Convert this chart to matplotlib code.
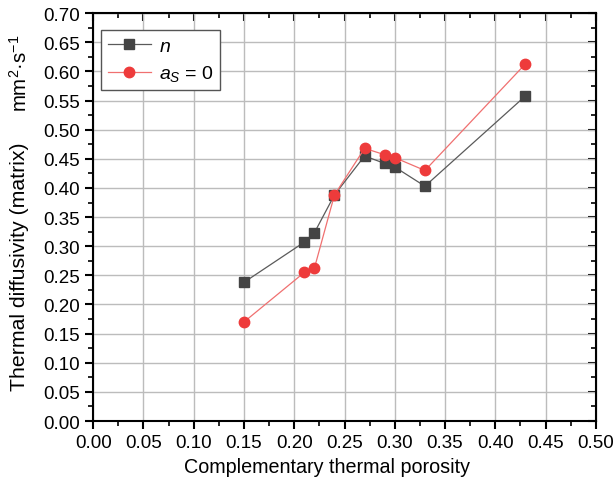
import numpy as np
import matplotlib.pyplot as plt
from matplotlib.ticker import MultipleLocator

plt.rcParams['font.family'] = ['Liberation Sans', 'DejaVu Sans']
plt.rcParams['mathtext.fontset'] = 'custom'
plt.rcParams['mathtext.it'] = 'Liberation Sans:italic'
plt.rcParams['mathtext.rm'] = 'Liberation Sans'

# porosity values
porosity = [0.15, 0.21, 0.22, 0.24, 0.27, 0.29, 0.30, 0.33, 0.43]
# diffusivity, n series
diff_n = [0.238, 0.307, 0.323, 0.388, 0.455, 0.442, 0.436, 0.403, 0.558]
# diffusivity, a_S = 0 series
diff_as0 = [0.170, 0.255, 0.262, 0.388, 0.468, 0.457, 0.452, 0.430, 0.613]

fig = plt.figure(figsize=(6.13, 4.89), dpi=100)
ax = fig.add_axes([0.152, 0.137, 0.820, 0.834])

ax.plot(porosity, diff_n, color='#5a5a5a', lw=0.9, marker='s', ms=6.5,
        mfc='#444444', mec='#444444', label='$n$', zorder=3)
ax.plot(porosity, diff_as0, color='#f07070', lw=0.9, marker='o', ms=7.5,
        mfc='#ee3b3b', mec='#ee3b3b', label='$a_S$ = 0', zorder=4)

ax.set_xlim(0, 0.5)
ax.set_ylim(0, 0.7)
ax.xaxis.set_major_locator(MultipleLocator(0.05))
ax.xaxis.set_minor_locator(MultipleLocator(0.025))
ax.yaxis.set_major_locator(MultipleLocator(0.05))
ax.yaxis.set_minor_locator(MultipleLocator(0.025))
ax.xaxis.set_major_formatter(plt.FormatStrFormatter('%.2f'))
ax.yaxis.set_major_formatter(plt.FormatStrFormatter('%.2f'))

ax.grid(True, which='major', color='#bcbcbc', lw=1.0)
ax.set_axisbelow(True)

for s in ax.spines.values():
    s.set_linewidth(1.5)
    s.set_color('black')

ax.tick_params(which='major', direction='out', length=6, width=1.5,
               labelsize=13.5, top=False, right=False)
ax.tick_params(which='minor', direction='out', length=3.5, width=1.2,
               top=False, right=False)

# inward ticks on top and right
ax2 = ax.secondary_xaxis('top')
ax2.xaxis.set_major_locator(MultipleLocator(0.05))
ax2.xaxis.set_minor_locator(MultipleLocator(0.025))
ax2.tick_params(which='major', direction='in', length=6, width=1.5, labeltop=False)
ax2.tick_params(which='minor', direction='in', length=3.5, width=1.2)
ax3 = ax.secondary_yaxis('right')
ax3.yaxis.set_major_locator(MultipleLocator(0.05))
ax3.yaxis.set_minor_locator(MultipleLocator(0.025))
ax3.tick_params(which='major', direction='in', length=6, width=1.5, labelright=False)
ax3.tick_params(which='minor', direction='in', length=3.5, width=1.2)

fig.text(0.533, 0.043, 'Complementary thermal porosity', fontsize=14.2,
         ha='center', va='center')
fig.text(0.032, 0.454, 'Thermal diffusivity (matrix)', rotation=90,
         fontsize=15.3, ha='center', va='center')
fig.text(0.032, 0.851, 'mm$^2$·s$^{-1}$', rotation=90,
         fontsize=14.7, ha='center', va='center')

leg = ax.legend(loc='upper left', bbox_to_anchor=(0.016, 0.958), fontsize=14,
                fancybox=False, framealpha=1, edgecolor='#555555',
                handlelength=2.2, borderpad=0.35, borderaxespad=0,
                handletextpad=0.4, labelspacing=0.45)
leg.get_frame().set_linewidth(1.0)

fig.savefig('out.png', dpi=100)
